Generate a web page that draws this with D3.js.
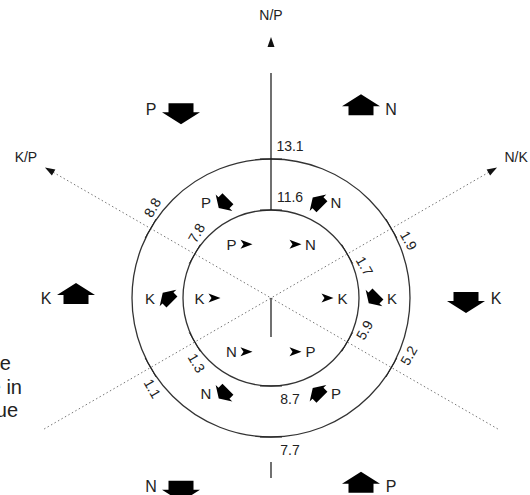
<!DOCTYPE html>
<html>
<head>
<meta charset="utf-8">
<script src="https://cdn.jsdelivr.net/npm/d3@7"></script>
<style>
  body { margin: 0; background: #fff; }
  svg { display: block; }
  text { font-family: "Liberation Sans", Arial, sans-serif; fill: #222; }
</style>
</head>
<body>
<script>
// ratio axes and the norm values where they cut the two circles
const axes = ['N/P', 'K/P', 'N/K'];
const upperOuter = [13.1, 8.8, 1.9];
const upperInner = [11.6, 7.8, 1.7];
const lowerInner = [8.7, 5.9, 1.3];
const lowerOuter = [7.7, 5.2, 1.1];

// the six sectors between the half axes
const sectors = ['E', 'NE', 'NW', 'W', 'SW', 'SE'];
const nutrients = ['K', 'N', 'P', 'K', 'N', 'P'];
const trend = ['down', 'up', 'down', 'up', 'down', 'up'];

const legendLines = ['of the ratio zone', 'Balanced zone in', 'norm value'];

const width = 530, height = 495;
const cx = 271, cy = 298;

let svg = d3.select('body').append('svg')
    .attr('width', width)
    .attr('height', height);

let axisAngle = d3.scaleOrdinal().domain(axes).range([90, 150, 30]);
let sectorAngle = d3.scaleOrdinal().domain(sectors).range([0, 60, 120, 180, 240, 300]);
let ring = d3.scaleOrdinal().domain(['inner', 'outer']).range([88, 139]);
// arrow rows: [rx, ry, gap between arrow and letter]
let row = d3.scaleOrdinal().domain(['inner', 'middle', 'outer']).range([[64, 62, 15], [112, 110, 18], [210, 218, 30]]);

const rad = d => d * Math.PI / 180;
function pt(deg, rx, ry) {
    if (ry === undefined) ry = rx;
    return [cx + rx * Math.cos(rad(deg)), cy - ry * Math.sin(rad(deg))];
}

// circles
svg.append('g').selectAll('circle')
    .data(ring.domain())
    .enter()
    .append('circle')
    .attr('cx', cx)
    .attr('cy', cy)
    .attr('r', d => ring(d))
    .attr('fill', 'none')
    .attr('stroke', '#333')
    .attr('stroke-width', 1.3);

// dotted ratio axes (K/P and N/K)
let gAxes = svg.append('g');
axes.slice(1).forEach(a => {
    const t = axisAngle(a);
    const p0 = pt(t + 180, 262), p1 = pt(t, 252);
    gAxes.append('line')
        .attr('x1', p0[0]).attr('y1', p0[1])
        .attr('x2', p1[0]).attr('y2', p1[1])
        .attr('stroke', '#777')
        .attr('stroke-width', 1)
        .attr('stroke-dasharray', '1.5,2.5');
});

// solid N/P axis, broken like in the print
const tNP = axisAngle('N/P');
[[ring('inner'), 225], [0, -39], [-164, -180]].forEach(s => {
    const p0 = pt(tNP, s[0]), p1 = pt(tNP, s[1]);
    gAxes.append('line')
        .attr('x1', p0[0]).attr('y1', p0[1])
        .attr('x2', p1[0]).attr('y2', p1[1])
        .attr('stroke', '#111')
        .attr('stroke-width', 1.2);
});

// axis arrow heads and names
axes.forEach(a => {
    const t = axisAngle(a);
    const tip = pt(t, 261);
    gAxes.append('path')
        .attr('d', 'M0,0 L-10,-3.5 L-10,3.5 Z')
        .attr('transform', `translate(${tip[0]},${tip[1]}) rotate(${-t})`)
        .attr('fill', '#111');
    const lp = pt(t, 283);
    gAxes.append('text')
        .attr('x', lp[0]).attr('y', lp[1])
        .attr('text-anchor', 'middle')
        .attr('dominant-baseline', 'central')
        .attr('font-size', 14)
        .attr('fill', '#444')
        .text(a);
});

// ticks and values where the axes cross the circles
let gTicks = svg.append('g');
const crossings = [
    { ring: 'outer', sign: 1, values: upperOuter },
    { ring: 'inner', sign: 1, values: upperInner },
    { ring: 'inner', sign: -1, values: lowerInner },
    { ring: 'outer', sign: -1, values: lowerOuter }
];
crossings.forEach(c => {
    axes.forEach((a, i) => {
        const t = axisAngle(a);
        const r = c.sign * ring(c.ring);
        const p = pt(t, r);
        const q0 = pt(t - 90, 11), q1 = pt(t + 90, 11);
        gTicks.append('line')
            .attr('x1', p[0] + q0[0] - cx).attr('y1', p[1] + q0[1] - cy)
            .attr('x2', p[0] + q1[0] - cx).attr('y2', p[1] + q1[1] - cy)
            .attr('stroke', '#222')
            .attr('stroke-width', 1);
        const off = pt(t - 90, 19);
        const out = pt(t, c.sign * (a === 'N/P' ? 13 : 9));
        const lx = p[0] + off[0] - cx + out[0] - cx;
        const ly = p[1] + off[1] - cy + out[1] - cy;
        gTicks.append('text')
            .attr('transform', `translate(${lx},${ly}) rotate(${90 - t})`)
            .attr('text-anchor', 'middle')
            .attr('dominant-baseline', 'central')
            .attr('font-size', 14)
            .attr('fill', '#333')
            .text(c.values[i]);
    });
});

// arrow shapes
const bigArrow = 'M0,-12 L19,0 L12.5,0 L12.5,9 L-12.5,9 L-12.5,0 L-19,0 Z';
const smallArrow = 'M6,0 L-6,-4.5 L-3,0 L-6,4.5 Z';

let gArrows = svg.append('g');
['outer', 'middle', 'inner'].forEach(level => {
    const rr = row(level);
    sectors.forEach((s, i) => {
        const t = sectorAngle(s);
        const g = pt(t, rr[0], rr[1]);
        const left = Math.cos(rad(t)) < -0.01;
        const ax = left ? g[0] + rr[2] / 2 : g[0] - rr[2] / 2;
        const lx = left ? g[0] - rr[2] / 2 : g[0] + rr[2] / 2;
        let shape, tf;
        if (level === 'outer') {
            shape = bigArrow;
            tf = `translate(${ax},${g[1] + (trend[i] === 'up' ? -3 : 3)}) rotate(${trend[i] === 'up' ? 0 : 180})`;
        } else if (level === 'middle') {
            shape = bigArrow;
            tf = `translate(${ax},${g[1]}) rotate(${trend[i] === 'up' ? -45 : 225}) scale(0.62)`;
        } else {
            shape = smallArrow;
            tf = `translate(${ax},${g[1]})`;
        }
        gArrows.append('path')
            .attr('d', shape)
            .attr('transform', tf)
            .attr('fill', '#000');
        gArrows.append('text')
            .attr('x', lx).attr('y', g[1])
            .attr('text-anchor', 'middle')
            .attr('dominant-baseline', 'central')
            .attr('font-size', level === 'outer' ? 16 : 15)
            .attr('fill', '#333')
            .text(nutrients[i]);
    });
});

// legend text, cut by the left edge as in the scan
svg.append('g').selectAll('text')
    .data(legendLines)
    .enter()
    .append('text')
    .attr('x', (d, i) => [11, 22, 18][i])
    .attr('y', (d, i) => 370 + i * 23.5)
    .attr('text-anchor', 'end')
    .attr('font-size', 20)
    .attr('fill', '#333')
    .text(d => d);
</script>
</body>
</html>
